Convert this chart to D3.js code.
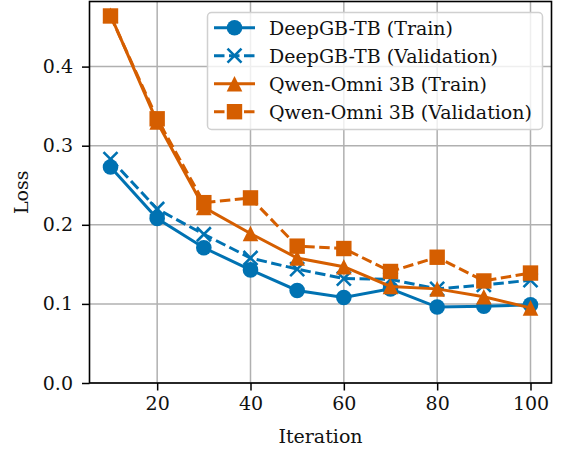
<!DOCTYPE html>
<html>
<head>
<meta charset="utf-8">
<script src="https://cdn.jsdelivr.net/npm/d3@7"></script>
<style>
  body { margin: 0; background: #fff; }
  svg { display: block; }
  text { font-family: "DejaVu Serif", serif; fill: #111; }
</style>
</head>
<body>
<svg id="chart" width="564" height="454"></svg>
<script>
// ------------------------------------
// Data
// ------------------------------------
const iterations = [10, 20, 30, 40, 50, 60, 70, 80, 90, 100];
const deepTrain = [0.273, 0.208, 0.171, 0.143, 0.117, 0.108, 0.119, 0.096, 0.097, 0.099];
const deepVal   = [0.283, 0.220, 0.188, 0.158, 0.144, 0.132, 0.131, 0.119, 0.124, 0.130];
const qwenTrain = [0.465, 0.330, 0.222, 0.189, 0.158, 0.147, 0.122, 0.119, 0.109, 0.095];
const qwenVal   = [0.464, 0.334, 0.228, 0.234, 0.173, 0.170, 0.141, 0.159, 0.129, 0.139];
const xTicks = [20, 40, 60, 80, 100];
const yTicks = [0.0, 0.1, 0.2, 0.3, 0.4];

const BLUE = "#0072b2";
const ORANGE = "#d55e00";
const FONT = 19;

const series = [
  { name: "DeepGB-TB (Train)",        values: deepTrain, color: BLUE,   dashed: false, marker: "circle" },
  { name: "DeepGB-TB (Validation)",   values: deepVal,   color: BLUE,   dashed: true,  marker: "x" },
  { name: "Qwen-Omni 3B (Train)",     values: qwenTrain, color: ORANGE, dashed: false, marker: "triangle" },
  { name: "Qwen-Omni 3B (Validation)",values: qwenVal,   color: ORANGE, dashed: true,  marker: "square" }
];

// ------------------------------------
// Layout
// ------------------------------------
const svg = d3.select("#chart");
const plot = { left: 89.5, right: 551.5, top: 1.5, bottom: 383 };

const x = d3.scaleLinear().domain([5.5, 104.5]).range([plot.left, plot.right]);
const y = d3.scaleLinear().domain([0, 0.4823]).range([plot.bottom, plot.top]);

// grid
const grid = svg.append("g");
grid.selectAll(".gx").data(xTicks).join("line")
  .attr("x1", d => x(d)).attr("x2", d => x(d))
  .attr("y1", plot.top).attr("y2", plot.bottom)
  .attr("stroke", "#b0b0b0").attr("stroke-width", 1.5);
grid.selectAll(".gy").data(yTicks).join("line")
  .attr("y1", d => y(d)).attr("y2", d => y(d))
  .attr("x1", plot.left).attr("x2", plot.right)
  .attr("stroke", "#b0b0b0").attr("stroke-width", 1.5);

// axes
const xAxis = svg.append("g")
  .attr("transform", `translate(0,${plot.bottom})`)
  .call(d3.axisBottom(x).tickValues(xTicks).tickFormat(d3.format("d")).tickSize(7.5).tickPadding(6));
const yAxis = svg.append("g")
  .attr("transform", `translate(${plot.left},0)`)
  .call(d3.axisLeft(y).tickValues(yTicks).tickFormat(d3.format(".1f")).tickSize(7.5).tickPadding(9));

[xAxis, yAxis].forEach(a => {
  a.select(".domain").remove();
  a.selectAll(".tick line").attr("stroke", "#000").attr("stroke-width", 1.5);
  a.selectAll(".tick text").attr("font-size", FONT).attr("font-family", "DejaVu Serif").attr("fill", "#111");
});

// line drawing
const line = d3.line()
  .x((d, i) => x(iterations[i]))
  .y(d => y(d));

function drawMarker(g, type, cx, cy, color) {
  if (type === "circle") {
    g.append("circle").attr("cx", cx).attr("cy", cy).attr("r", 7.8).attr("fill", color);
  } else if (type === "square") {
    g.append("rect").attr("x", cx - 7.7).attr("y", cy - 7.7)
      .attr("width", 15.4).attr("height", 15.4).attr("fill", color);
  } else if (type === "triangle") {
    const s = 7.8;
    g.append("path")
      .attr("d", `M${cx},${cy - s}L${cx - s},${cy + s}L${cx + s},${cy + s}Z`)
      .attr("fill", color);
  } else if (type === "x") {
    const s = 7;
    g.append("path")
      .attr("d", `M${cx - s},${cy - s}L${cx + s},${cy + s}M${cx - s},${cy + s}L${cx + s},${cy - s}`)
      .attr("stroke", color).attr("stroke-width", 2.6).attr("fill", "none");
  }
}

const marks = svg.append("g");
series.forEach(s => {
  const g = marks.append("g");
  g.append("path")
    .datum(s.values)
    .attr("fill", "none")
    .attr("stroke", s.color)
    .attr("stroke-width", 3)
    .attr("stroke-dasharray", s.dashed ? "10.5,4.5" : null)
    .attr("d", line);
  s.values.forEach((v, i) => drawMarker(g, s.marker, x(iterations[i]), y(v), s.color));
});

// spines
svg.append("rect")
  .attr("x", plot.left).attr("y", plot.top)
  .attr("width", plot.right - plot.left).attr("height", plot.bottom - plot.top)
  .attr("fill", "none").attr("stroke", "#000").attr("stroke-width", 1.6);

// axis labels
svg.append("text")
  .attr("x", (plot.left + plot.right) / 2).attr("y", 443)
  .attr("text-anchor", "middle").attr("font-size", FONT)
  .text("Iteration");

svg.append("text")
  .attr("transform", `translate(28,${(plot.top + plot.bottom) / 2}) rotate(-90)`)
  .attr("text-anchor", "middle").attr("font-size", FONT)
  .text("Loss");

// legend
const legend = svg.append("g");
legend.append("rect")
  .attr("x", 207.5).attr("y", 12.5).attr("width", 335).attr("height", 117)
  .attr("rx", 4).attr("ry", 4)
  .attr("fill", "#fff").attr("fill-opacity", 0.8)
  .attr("stroke", "#d0d0d0").attr("stroke-width", 1.5);

series.forEach((s, i) => {
  const ly = 27.7 + i * 28;
  legend.append("line")
    .attr("x1", 214).attr("x2", 255).attr("y1", ly).attr("y2", ly)
    .attr("stroke", s.color).attr("stroke-width", 3)
    .attr("stroke-dasharray", s.dashed ? "10.5,4.5" : null);
  drawMarker(legend, s.marker, 234.5, ly, s.color);
  legend.append("text")
    .attr("x", 269).attr("y", ly + 7)
    .attr("font-size", FONT)
    .text(s.name);
});
</script>
</body>
</html>
